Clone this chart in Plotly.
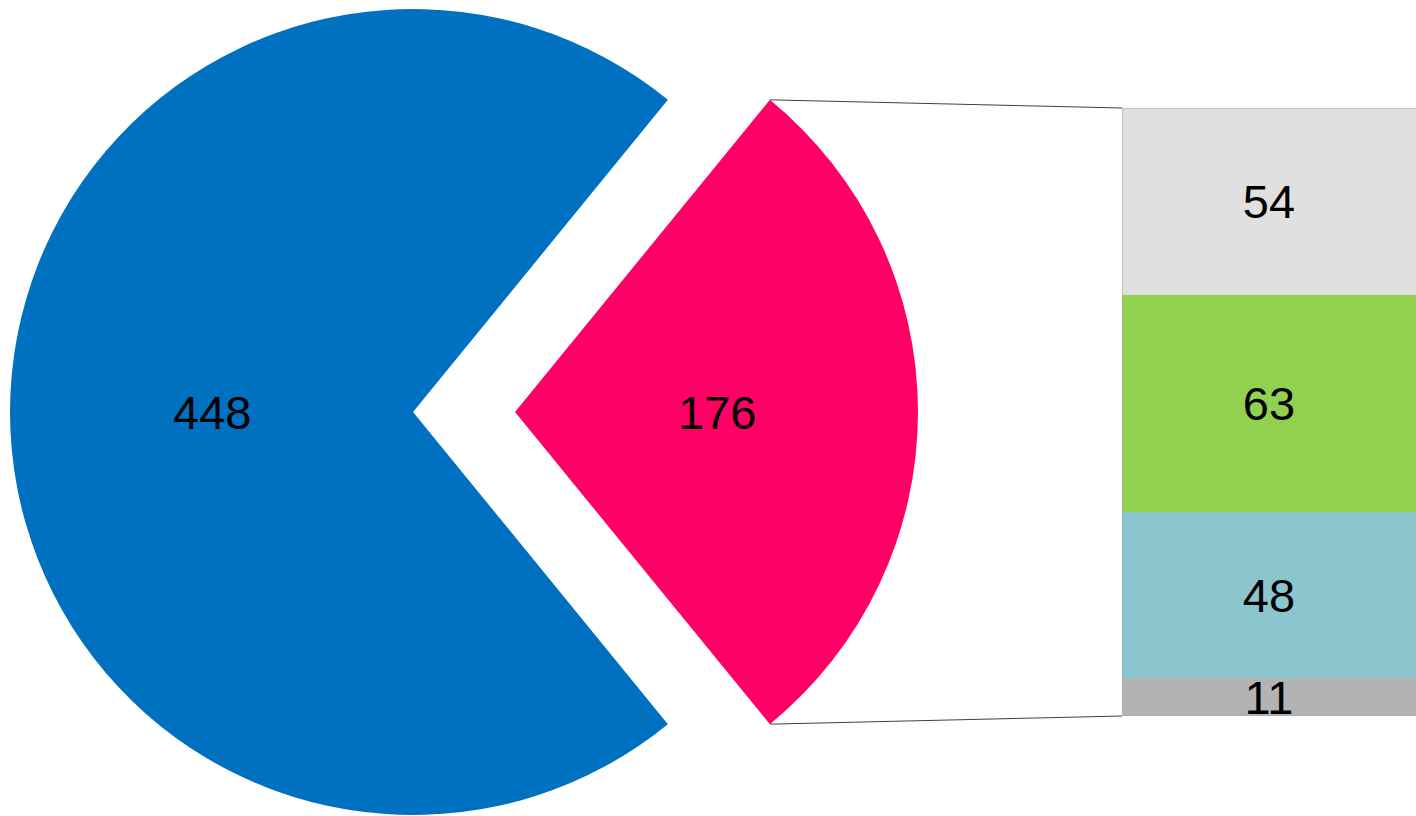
import math
import plotly.graph_objects as go

# ---- data ----
pie_labels = ["Other", "Detail"]
pie_values = [448, 176]
pie_colors = ["#0070c0", "#ff0066"]

bar_labels = ["D", "C", "B", "A"]          # bottom -> top
bar_values = [11, 48, 63, 54]
bar_colors = ["#b3b3b3", "#8bc5cd", "#92d050", "#e0e0e0"]

# ---- layout geometry (pixels) ----
W, H = 1416, 816
R = 403            # pie radius
CY = 412           # pie centre y (from top)
CX_MAIN = 413
PULL = 102         # explode distance of detail slice
BAR_X0, BAR_X1 = 1122, 1416
BAR_Y0, BAR_Y1 = 108, 716   # top, bottom
LABEL_R = 0.5      # label distance as fraction of radius

FONT = "Liberation Sans, Arial, sans-serif"
FS = 47

total = sum(pie_values)
detail_angle = 360.0 * pie_values[1] / total
rotation = 90 - detail_angle / 2  # detail slice centred at 3 o'clock


def pie_domain(cx):
    return dict(x=[(cx - R) / W, (cx + R) / W],
                y=[max(0, 1 - (CY + R) / H), 1 - (CY - R) / H])


order_vals = [pie_values[1], pie_values[0]]
order_labels = [pie_labels[1], pie_labels[0]]

fig = go.Figure()

# main pie (detail slice transparent)
fig.add_trace(go.Pie(
    labels=order_labels, values=order_vals,
    marker=dict(colors=["rgba(0,0,0,0)", pie_colors[0]]),
    textinfo="none", sort=False, direction="clockwise", rotation=rotation,
    domain=pie_domain(CX_MAIN), hoverinfo="skip", showlegend=False,
))

# exploded detail slice (other slice transparent)
fig.add_trace(go.Pie(
    labels=order_labels, values=order_vals,
    marker=dict(colors=[pie_colors[1], "rgba(0,0,0,0)"]),
    textinfo="none", sort=False, direction="clockwise", rotation=rotation,
    domain=pie_domain(CX_MAIN + PULL), hoverinfo="skip", showlegend=False,
))

# pie value labels at half radius along each slice's mid-angle
cum = 0.0
centres = [CX_MAIN + PULL, CX_MAIN]
for val, cx in zip(order_vals, centres):
    mid = math.radians(rotation + 360.0 * (cum + val / 2) / total)
    cum += val
    lx = cx + LABEL_R * R * math.sin(mid)
    ly = CY - LABEL_R * R * math.cos(mid)
    fig.add_annotation(x=lx / W, y=1 - ly / H, xref="paper", yref="paper",
                       text=str(val), showarrow=False,
                       xanchor="center", yanchor="middle",
                       font=dict(family=FONT, size=FS, color="black"))

# stacked bar
for lab, val, col in zip(bar_labels, bar_values, bar_colors):
    fig.add_trace(go.Bar(
        x=[0], y=[val], name=lab, width=1,
        marker=dict(color=col, line=dict(width=0)),
        text=[str(val)], textposition="inside", insidetextanchor="middle",
        textangle=0, constraintext="none",
        textfont=dict(family=FONT, size=FS, color="black"),
        hoverinfo="skip", showlegend=False,
    ))

bar_total = sum(bar_values)
xdom = [BAR_X0 / W, BAR_X1 / W]
ydom = [1 - BAR_Y1 / H, 1 - BAR_Y0 / H]

# bar outline (top, left, bottom edges)
fig.add_shape(type="path", xref="x", yref="y",
              path=f"M 0.5 {bar_total} L -0.5 {bar_total} L -0.5 0 L 0.5 0",
              line=dict(color="#a6a6a6", width=1), fillcolor="rgba(0,0,0,0)")

# connector lines from detail slice corners to bar corners
half = math.radians(detail_angle / 2)
apex_x = CX_MAIN + PULL
cx_corner = apex_x + R * math.cos(half)
top_y = CY - R * math.sin(half)
bot_y = CY + R * math.sin(half)
for py, by in [(top_y, ydom[1]), (bot_y, ydom[0])]:
    fig.add_shape(type="line", xref="paper", yref="paper",
                  x0=cx_corner / W, y0=1 - py / H, x1=xdom[0], y1=by,
                  line=dict(color="#404040", width=1))

fig.update_layout(
    width=W, height=H, margin=dict(l=0, r=0, t=0, b=0),
    paper_bgcolor="white", plot_bgcolor="white",
    barmode="stack", bargap=0, showlegend=False,
    uniformtext=dict(minsize=FS, mode="show"),
    xaxis=dict(domain=xdom, range=[-0.5, 0.5], visible=False, fixedrange=True),
    yaxis=dict(domain=ydom, range=[0, bar_total], visible=False, fixedrange=True),
    font=dict(family=FONT),
)

fig.write_html("out.html", config={"displayModeBar": False},
               post_script="document.body.style.margin='0';document.body.style.overflow='hidden';")
